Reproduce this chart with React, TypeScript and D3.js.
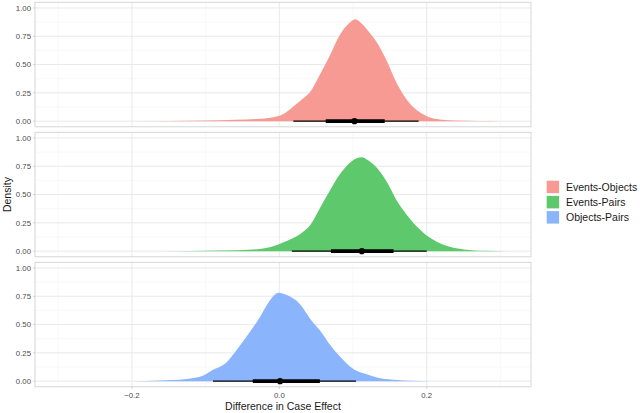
import React from "react";
import * as d3 from "d3";

const comparisons = ["Events-Objects", "Events-Pairs", "Objects-Pairs"];
const fills = ["#F79A93", "#5EC96C", "#8AB5FC"];

const eoX = [-0.25, -0.15, -0.1, -0.06, -0.03, -0.01, 0.005, 0.019, 0.03, 0.042, 0.055, 0.069, 0.082, 0.094, 0.103, 0.112, 0.125, 0.132, 0.146, 0.159, 0.173, 0.186, 0.2, 0.218, 0.24, 0.27, 0.3];
const eoD = [0, 0.002, 0.006, 0.012, 0.02, 0.032, 0.06, 0.13, 0.19, 0.26, 0.41, 0.585, 0.76, 0.86, 0.9, 0.86, 0.76, 0.7, 0.53, 0.34, 0.19, 0.1, 0.044, 0.015, 0.005, 0.001, 0];

const epX = [-0.2, -0.12, -0.08, -0.035, -0.013, 0.01, 0.028, 0.042, 0.055, 0.069, 0.078, 0.091, 0.105, 0.112, 0.121, 0.137, 0.146, 0.159, 0.173, 0.191, 0.209, 0.23, 0.25, 0.28, 0.31];
const epD = [0, 0.002, 0.006, 0.015, 0.035, 0.09, 0.15, 0.23, 0.38, 0.54, 0.64, 0.75, 0.82, 0.83, 0.8, 0.7, 0.61, 0.45, 0.32, 0.19, 0.1, 0.04, 0.015, 0.003, 0];

const opX = [-0.2, -0.162, -0.126, -0.103, -0.09, -0.071, -0.058, -0.04, -0.026, -0.013, -0.001, 0.01, 0.028, 0.042, 0.055, 0.069, 0.082, 0.1, 0.119, 0.137, 0.16, 0.18, 0.206];
const opD = [0, 0.006, 0.02, 0.05, 0.1, 0.17, 0.275, 0.435, 0.57, 0.71, 0.78, 0.76, 0.68, 0.55, 0.45, 0.32, 0.22, 0.11, 0.06, 0.025, 0.01, 0.004, 0];

const pointEst = [0.102, 0.112, 0.001];
const inner66Lo = [0.063, 0.07, -0.036];
const inner66Hi = [0.143, 0.155, 0.055];
const outer95Lo = [0.019, 0.017, -0.09];
const outer95Hi = [0.189, 0.2, 0.104];

const xMajor = [-0.2, 0, 0.2];
const xMinor = [-0.3, -0.1, 0.1, 0.3];
const yMajor = [0, 0.25, 0.5, 0.75, 1];
const yMinor = [0.125, 0.375, 0.625, 0.875];

const densX = [eoX, epX, opX];
const densD = [eoD, epD, opD];

const W = 640;
const H = 413;
const panelLeft = 35;
const panelRight = 531;
const panelTop0 = 2.3;
const panelStep = 130;
const panelH = 124.5;

export default function App() {
  const x = d3.scaleLinear().domain([-0.3315, 0.3415]).range([panelLeft, panelRight]);
  const font = "'Liberation Sans', Arial, Helvetica, sans-serif";
  const fmtX = (v: number) => (v === 0 ? "0.0" : d3.format(".1f")(v));

  return (
    <svg width={W} height={H} style={{ position: "absolute", left: 0, top: 0, background: "#fff" }} fontFamily={font}>
      {comparisons.map((c, i) => {
        const top = panelTop0 + i * panelStep;
        const y = d3.scaleLinear().domain([-0.05, 1.05]).range([top + panelH, top]);
        const pts = densX[i].map((v, k) => [v, densD[i][k]] as [number, number]);
        const area = d3
          .area<[number, number]>()
          .x((d) => x(d[0]))
          .y0(y(0))
          .y1((d) => y(d[1]))
          .curve(d3.curveMonotoneX);
        const y0 = y(0);
        return (
          <g key={c}>
            {xMinor.map((v) => (
              <line key={"xm" + v} x1={x(v)} x2={x(v)} y1={top} y2={top + panelH} stroke="#f3f3f3" strokeWidth={0.6} />
            ))}
            {yMinor.map((v) => (
              <line key={"ym" + v} x1={panelLeft} x2={panelRight} y1={y(v)} y2={y(v)} stroke="#f3f3f3" strokeWidth={0.6} />
            ))}
            {xMajor.map((v) => (
              <line key={"xM" + v} x1={x(v)} x2={x(v)} y1={top} y2={top + panelH} stroke="#e6e6e6" strokeWidth={0.9} />
            ))}
            {yMajor.map((v) => (
              <line key={"yM" + v} x1={panelLeft} x2={panelRight} y1={y(v)} y2={y(v)} stroke="#e6e6e6" strokeWidth={0.9} />
            ))}
            <path d={area(pts) || ""} fill={fills[i]} />
            <line x1={x(outer95Lo[i])} x2={x(outer95Hi[i])} y1={y0} y2={y0} stroke="#000" strokeWidth={1.4} />
            <line x1={x(inner66Lo[i])} x2={x(inner66Hi[i])} y1={y0} y2={y0} stroke="#000" strokeWidth={3.6} />
            <circle cx={x(pointEst[i])} cy={y0} r={3.1} fill="#000" />
            <rect x={panelLeft} y={top} width={panelRight - panelLeft} height={panelH} fill="none" stroke="#d2d2d2" strokeWidth={0.9} />
            {yMajor.map((v) => (
              <g key={"yt" + v}>
                <line x1={panelLeft - 2} x2={panelLeft} y1={y(v)} y2={y(v)} stroke="#c8c8c8" strokeWidth={0.8} />
                <text x={31} y={y(v)} dy="0.35em" textAnchor="end" fontSize={7.8} fill="#4d4d4d">
                  {d3.format(".2f")(v)}
                </text>
              </g>
            ))}
          </g>
        );
      })}
      {xMajor.map((v) => {
        const bottom = panelTop0 + 2 * panelStep + panelH;
        return (
          <g key={"xt" + v}>
            <line x1={x(v)} x2={x(v)} y1={bottom} y2={bottom + 2} stroke="#c8c8c8" strokeWidth={0.8} />
            <text x={x(v)} y={395} dy="0.35em" textAnchor="middle" fontSize={7.8} fill="#4d4d4d">
              {fmtX(v)}
            </text>
          </g>
        );
      })}
      <text x={(panelLeft + panelRight) / 2} y={406.5} dy="0.35em" textAnchor="middle" fontSize={10.5} fill="#1a1a1a">
        Difference in Case Effect
      </text>
      <text
        transform={`translate(7.5, ${(panelTop0 + panelTop0 + 2 * panelStep + panelH) / 2}) rotate(-90)`}
        dy="0.35em"
        textAnchor="middle"
        fontSize={10.5}
        fill="#1a1a1a"
      >
        Density
      </text>
      {comparisons.map((c, i) => (
        <g key={"lg" + c}>
          <rect x={546.7} y={180.7 + i * 15.2} width={12.4} height={12.5} fill={fills[i]} />
          <text x={566} y={187 + i * 15.2} dy="0.35em" fontSize={10.5} fill="#1a1a1a">
            {c}
          </text>
        </g>
      ))}
    </svg>
  );
}
